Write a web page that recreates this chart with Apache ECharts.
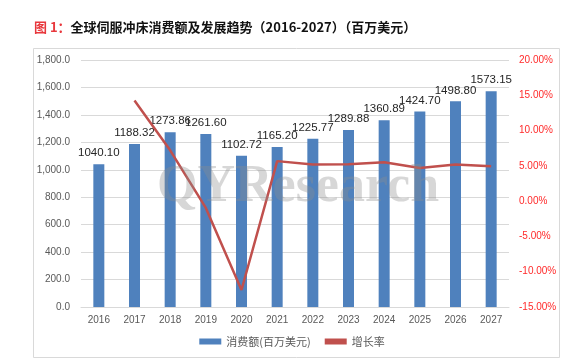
<!DOCTYPE html>
<html><head><meta charset="utf-8">
<script src="https://cdn.jsdelivr.net/npm/echarts@6/dist/echarts.min.js"></script>
<style>html,body{margin:0;padding:0;background:#fff;}#c{width:584px;height:361px;}</style>
</head><body><div id="c"></div>
<script>
const years = ['2016','2017','2018','2019','2020','2021','2022','2023','2024','2025','2026','2027'];
const sales = [1040.10,1188.32,1273.86,1261.60,1102.72,1165.20,1225.77,1289.88,1360.89,1424.70,1498.80,1573.15];
const growth = [null,14.25,7.20,-0.96,-12.59,5.67,5.20,5.23,5.51,4.69,5.20,4.96];
const leftTicks = {min:0,max:1800,interval:200};
const rightTicks = {min:-15,max:20,interval:5};

const chart = echarts.init(document.getElementById('c'));
chart.setOption({
  animation:false,
  backgroundColor:'#fff',
  title:{
    text:'{r|图 1：}{b|全球伺服冲床消费额及发展趋势（2016-2027）（百万美元）}',
    left:29, top:16,
    textStyle:{rich:{
      r:{color:'#e8383d',fontSize:13,fontWeight:'bold',fontFamily:'Noto Sans CJK SC'},
      b:{color:'#111',fontSize:13,fontWeight:'bold',fontFamily:'Noto Sans CJK SC'}
    }}
  },
  graphic:[
    {type:'rect',shape:{x:33.5,y:48.5,width:526,height:309},style:{fill:'none',stroke:'#d9d9d9',lineWidth:1},z:-1},
    {type:'text',left:157,top:162,style:{text:'QYResearch',font:'bold 52px "Liberation Serif"',fill:'rgba(140,140,140,0.35)'},z:100}
  ],
  legend:{
    bottom:9, left:'center', itemGap:14,
    itemWidth:22, itemHeight:6,
    textStyle:{color:'#595959',fontSize:11,fontFamily:'Noto Sans CJK SC'},
    data:[{name:'消费额(百万美元)',icon:'rect'},{name:'增长率',icon:'rect',itemStyle:{color:'#c0504d'}}]
  },
  grid:{left:81,right:75,top:60,bottom:54},
  xAxis:{type:'category',data:years,
    axisLine:{lineStyle:{color:'#d9d9d9'}},axisTick:{show:false},
    axisLabel:{color:'#595959',fontSize:10,margin:8,fontFamily:'Liberation Sans'}},
  yAxis:[
    {type:'value',min:leftTicks.min,max:leftTicks.max,interval:leftTicks.interval,
     axisLine:{show:false},axisTick:{show:false},
     splitLine:{lineStyle:{color:'#d9d9d9'}},
     axisLabel:{color:'#595959',fontSize:10,margin:11,fontFamily:'Liberation Sans',
       formatter:v=>v.toLocaleString('en-US',{minimumFractionDigits:1,maximumFractionDigits:1})}},
    {type:'value',min:rightTicks.min,max:rightTicks.max,interval:rightTicks.interval,
     axisLine:{show:false},axisTick:{show:false},splitLine:{show:false},
     axisLabel:{color:'#ff2a2a',fontSize:10,margin:10,fontFamily:'Liberation Sans',
       formatter:v=>v.toFixed(2)+'%'}}
  ],
  series:[
    {name:'消费额(百万美元)',type:'bar',data:sales,barWidth:11,
     itemStyle:{color:'#4f81bd'},
     label:{show:true,position:'top',distance:5,color:'#262626',fontSize:11.5,fontFamily:'Liberation Sans',
       formatter:p=>p.value.toFixed(2)}},
    {name:'增长率',type:'line',yAxisIndex:1,data:growth,symbol:'none',
     lineStyle:{color:'#c0504d',width:2.5},itemStyle:{color:'#c0504d'},z:5}
  ]
});
</script></body></html>
